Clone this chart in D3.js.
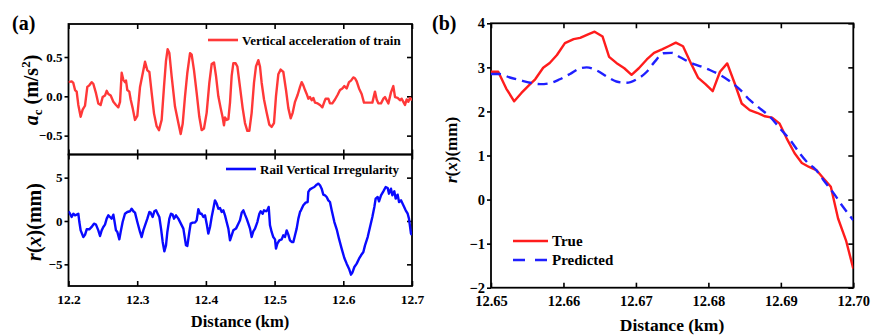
<!DOCTYPE html>
<html><head><meta charset="utf-8">
<script src="https://cdn.jsdelivr.net/npm/d3@7"></script>
<style>
body{margin:0;background:#fff}
svg text{font-family:"Liberation Serif","Times New Roman",serif;font-weight:bold;fill:#000}
</style>
</head><body><svg id="c" width="873" height="335"></svg>
<script>
// ---------- Panel (a) top: vertical acceleration of train (m/s^2) ----------
const accelX = [12.2000,12.2046,12.2070,12.2095,12.2119,12.2143,12.2177,12.2206,12.2240,12.2274,12.2303,12.2337,12.2361,12.2400,12.2434,12.2468,12.2497,12.2531,12.2556,12.2580,12.2614,12.2653,12.2691,12.2725,12.2750,12.2774,12.2798,12.2822,12.2837,12.2856,12.2885,12.2905,12.2934,12.2968,12.3002,12.3041,12.3114,12.3148,12.3177,12.3211,12.3245,12.3283,12.3317,12.3356,12.3390,12.3419,12.3443,12.3468,12.3502,12.3550,12.3599,12.3633,
12.3662,12.3696,12.3730,12.3769,12.3793,12.3827,12.3866,12.3904,12.3938,12.3972,12.4011,12.4050,12.4084,12.4118,12.4147,12.4181,12.4215,12.4244,12.4263,12.4278,12.4302,12.4327,12.4351,12.4375,12.4399,12.4433,12.4458,12.4496,12.4535,12.4569,12.4603,12.4632,12.4666,12.4700,12.4729,12.4763,12.4787,12.4812,12.4846,12.4885,12.4923,12.4957,12.4991,12.5020,12.5054,12.5088,12.5127,12.5166,12.5200,12.5234,12.5263,12.5297,
12.5336,12.5370,12.5394,12.5418,12.5443,12.5467,12.5491,12.5515,12.5540,12.5564,12.5588,12.5627,12.5661,12.5695,12.5724,12.5743,12.5782,12.5806,12.5840,12.5879,12.5918,12.5952,12.5986,12.6015,12.6049,12.6083,12.6112,12.6146,12.6170,12.6195,12.6229,12.6267,12.6301,12.6340,12.6389,12.6423,12.6461,12.6486,12.6510,12.6549,12.6583,12.6607,12.6631,12.6656,12.6694,12.6728,12.6753,12.6791,12.6825,12.6850,12.6874,12.6898,12.6923,12.6947,12.6971,12.7000];
const accelY = [0.18,0.19,0.17,0.08,0.06,-0.11,-0.26,-0.17,-0.12,0.12,0.14,0.18,0.16,0.04,-0.09,-0.11,-0.01,0.01,0.07,0.03,0.01,-0.07,-0.11,-0.14,-0.07,0.30,0.21,0.18,0.20,0.08,0.06,-0.04,-0.15,-0.30,-0.25,0.12,0.44,0.33,0.31,0.04,-0.22,-0.38,-0.43,-0.30,0.12,0.45,0.60,0.55,0.25,-0.13,-0.34,-0.48,
-0.35,0.00,0.30,0.55,0.53,0.33,0.04,-0.26,-0.43,-0.41,-0.21,0.17,0.41,0.43,0.26,0.00,-0.15,-0.27,-0.37,-0.27,-0.30,-0.29,-0.08,0.26,0.42,0.42,0.38,0.12,-0.15,-0.34,-0.44,-0.44,-0.21,0.17,0.38,0.46,0.38,0.17,-0.04,-0.21,-0.36,-0.39,-0.34,0.00,0.28,0.34,0.31,0.08,-0.15,-0.28,-0.21,-0.07,
0.02,0.12,0.18,0.14,0.08,0.03,-0.03,-0.01,-0.05,-0.02,-0.08,-0.09,-0.11,-0.14,-0.07,-0.03,-0.03,-0.09,-0.09,-0.04,0.02,0.08,0.10,0.13,0.10,0.18,0.20,0.24,0.23,0.19,0.10,0.03,-0.08,-0.08,-0.08,-0.08,0.06,-0.04,-0.09,-0.09,-0.03,-0.01,-0.05,-0.09,0.05,0.13,-0.01,-0.02,-0.05,-0.03,-0.07,-0.11,-0.04,-0.07,-0.02,-0.05];

// ---------- Panel (a) bottom: rail vertical irregularity (mm) ----------
const irrX = [12.2000,12.2022,12.2046,12.2070,12.2095,12.2119,12.2143,12.2158,12.2177,12.2216,12.2240,12.2265,12.2303,12.2337,12.2371,12.2400,12.2434,12.2459,12.2483,12.2507,12.2531,12.2556,12.2580,12.2604,12.2628,12.2653,12.2667,12.2691,12.2711,12.2740,12.2759,12.2788,12.2822,12.2856,12.2895,12.2919,12.2944,12.2968,12.3002,12.3041,12.3065,12.3089,12.3114,12.3148,12.3177,12.3196,12.3225,12.3250,12.3274,12.3298,12.3322,12.3347,12.3371,12.3395,12.3419,12.3439,12.3468,12.3492,12.3516,12.3536,12.3565,12.3599,
12.3672,12.3710,12.3730,12.3759,12.3778,12.3807,12.3841,12.3866,12.3890,12.3914,12.3938,12.3963,12.3987,12.4011,12.4035,12.4060,12.4084,12.4108,12.4132,12.4157,12.4181,12.4205,12.4230,12.4254,12.4278,12.4302,12.4327,12.4351,12.4375,12.4399,12.4438,12.4472,12.4496,12.4521,12.4545,12.4569,12.4593,12.4618,12.4642,12.4666,12.4690,12.4715,12.4749,12.4778,12.4797,12.4826,12.4846,12.4875,12.4894,12.4914,12.4933,12.4957,12.4981,12.5006,12.5020,12.5040,12.5069,12.5103,12.5127,12.5151,12.5176,12.5200,12.5224,12.5249,12.5273,12.5297,12.5321,12.5346,12.5370,
12.5384,12.5418,12.5452,12.5481,12.5491,12.5515,12.5549,12.5578,12.5612,12.5637,12.5661,12.5685,12.5709,12.5734,12.5758,12.5782,12.5806,12.5831,12.5870,12.5904,12.5937,12.5976,12.6015,12.6049,12.6083,12.6112,12.6132,12.6161,12.6195,12.6229,12.6258,12.6292,12.6316,12.6355,12.6389,12.6423,12.6452,12.6471,12.6500,12.6520,12.6549,12.6583,12.6617,12.6646,12.6665,12.6694,12.6714,12.6743,12.6762,12.6791,12.6811,12.6840,12.6874,12.6908,12.6937,12.6956,12.6985,12.7000];
const irrY = [1.12,0.84,0.46,0.84,0.65,0.73,0.84,-0.12,-1.08,-1.85,-1.60,-0.96,-0.96,-0.69,-0.31,-0.42,-1.08,-1.73,-1.08,-0.69,-0.42,0.27,0.65,0.46,0.27,0.73,0.08,-1.08,-1.27,-2.12,-1.27,-0.12,0.84,1.04,1.12,1.42,1.12,0.96,-0.12,-1.27,-1.85,-1.08,-0.50,0.27,1.04,0.96,0.46,1.12,1.23,0.84,0.46,-0.88,-2.42,-3.50,-2.81,-1.27,0.27,0.84,0.73,0.27,0.65,0.27,
-0.88,-2.80,-2.88,-1.27,-0.31,-0.19,-0.19,0.08,1.35,0.84,0.84,0.46,0.65,-0.31,-1.46,-0.69,0.46,1.42,2.38,2.00,1.42,1.50,1.04,1.23,0.65,-0.12,-0.88,-2.23,-1.65,-1.08,-0.88,-0.31,0.08,0.96,1.23,0.73,0.27,-0.31,-0.88,-1.85,-1.19,-0.88,-0.12,0.84,1.12,0.84,1.23,1.12,1.23,1.62,-0.50,-1.27,-1.85,-2.12,-3.19,-2.62,-2.23,-2.12,-1.65,-1.85,-1.08,-1.57,-2.23,-2.42,-2.42,-1.65,-0.88,0.27,1.04,
1.23,1.81,2.12,2.19,3.35,3.65,3.81,3.92,4.19,4.31,4.12,3.73,3.04,2.96,2.77,2.38,2.19,1.23,-0.12,-0.96,-2.04,-3.19,-4.27,-4.92,-5.50,-6.19,-5.96,-5.31,-4.92,-4.35,-3.96,-3.58,-2.81,-1.85,-0.69,0.46,1.62,2.58,2.77,2.27,2.96,3.42,3.92,3.81,3.15,3.73,2.96,3.42,2.58,3.04,2.19,2.38,1.81,1.23,0.84,0.27,-1.46,-1.60];

// ---------- Panel (b): true vs predicted r(x) (mm) ----------
const trueX = [12.6500,12.6510,12.6521,12.6532,12.6542,12.6554,12.6561,12.6572,12.6581,12.6591,12.6602,12.6614,12.6623,12.6634,12.6643,12.6654,12.6663,12.6673,12.6684,12.6694,12.6704,12.6715,12.6725,12.6736,12.6745,12.6755,12.6765,12.6776,12.6786,12.6796,12.6806,12.6816,12.6826,12.6836,12.6846,12.6857,12.6867,12.6878,12.6888,12.6898,12.6908,12.6919,12.6929,12.6939,12.6949,12.6959,12.6969,12.6979,12.6990,12.7000];
const trueY = [2.90,2.90,2.52,2.23,2.42,2.62,2.73,2.99,3.10,3.28,3.55,3.64,3.67,3.75,3.81,3.70,3.24,3.10,2.98,2.83,2.98,3.18,3.33,3.41,3.48,3.56,3.48,3.09,2.76,2.62,2.46,2.90,3.09,2.65,2.18,2.03,1.97,1.89,1.86,1.73,1.39,1.05,0.83,0.74,0.67,0.48,0.29,-0.43,-0.93,-1.57];
const predX = [12.6500,12.6512,12.6526,12.6540,12.6554,12.6568,12.6581,12.6595,12.6609,12.6623,12.6632,12.6646,12.6660,12.6673,12.6687,12.6701,12.6715,12.6726,12.6738,12.6749,12.6761,12.6775,12.6788,12.6802,12.6816,12.6830,12.6844,12.6857,12.6871,12.6885,12.6899,12.6913,12.6926,12.6938,12.6947,12.6959,12.6973,12.6986,12.7000];
const predY = [2.85,2.85,2.77,2.71,2.65,2.62,2.64,2.73,2.85,2.98,3.00,2.93,2.79,2.68,2.65,2.73,2.90,3.13,3.32,3.33,3.23,3.11,3.03,2.94,2.83,2.68,2.49,2.26,2.07,1.88,1.61,1.35,1.05,0.82,0.70,0.44,0.14,-0.17,-0.47];

// ---------- ticks & labels ----------
const aXTicks = [12.2,12.3,12.4,12.5,12.6,12.7];
const accelTicks = [-0.5,0,0.5];
const irrTicks = [-5,0,5];
const bXTicks = [12.65,12.66,12.67,12.68,12.69,12.70];
const bYTicks = [-2,-1,0,1,2,3,4];
const legendA1 = "Vertical acceleration of train";
const legendA2 = "Rail Vertical Irregularity";
const legendB = ["True","Predicted"];
const xTitle = "Distance (km)";

const svg = d3.select("#c");
const RED_A = "#ff3838", BLUE_A = "#0a0aff", RED_B = "#ff1c1c", BLUE_B = "#1f1fff";

// scales
const xa = d3.scaleLinear().domain([12.2,12.7]).range([68.5,412]);
const ya1 = d3.scaleLinear().domain([-0.74,0.92]).range([154.5,24]);
const ya2 = d3.scaleLinear().domain([-7.5,7.67]).range([286,154.5]);
const xb = d3.scaleLinear().domain([12.65,12.70]).range([491,853.3]);
const yb = d3.scaleLinear().domain([-2,4]).range([287.7,23.3]);

let clipId = 0;
function panel(x, y, xt, yt, fx, fy, opt){
  const [x0,x1] = x.range(), [y1,y0] = y.range();
  const id = "clip"+(clipId++);
  svg.append("clipPath").attr("id",id).append("rect")
    .attr("x",x0).attr("y",y0).attr("width",x1-x0).attr("height",y1-y0);
  const g = svg.append("g");
  // bottom
  const gb = g.append("g").attr("transform",`translate(0,${y1})`)
    .call(d3.axisBottom(x).tickValues(xt).tickSizeInner(-5).tickSizeOuter(0).tickPadding(opt.xPad||8)
      .tickFormat(opt.xLabels ? fx : ""));
  gb.selectAll("text").attr("font-size",opt.xfs);
  // top
  g.append("g").attr("transform",`translate(0,${y0})`)
    .call(d3.axisTop(x).tickValues(xt).tickSizeInner(-5).tickSizeOuter(0).tickFormat(""));
  // left (outward ticks)
  const gl = g.append("g").attr("transform",`translate(${x0},0)`)
    .call(d3.axisLeft(y).tickValues(yt).tickSizeInner(4).tickSizeOuter(0).tickPadding(opt.yPad).tickFormat(fy));
  gl.selectAll("text").attr("font-size",opt.yfs);
  // right (inward)
  g.append("g").attr("transform",`translate(${x1},0)`)
    .call(d3.axisRight(y).tickValues(yt).tickSizeInner(-5).tickSizeOuter(0).tickFormat(""));
  g.selectAll(".domain").remove();
  g.selectAll(".tick line").attr("stroke","#000").attr("stroke-width",1.6);
  g.append("rect").attr("x",x0).attr("y",y0).attr("width",x1-x0).attr("height",y1-y0)
    .attr("fill","none").attr("stroke","#000").attr("stroke-width",1.8);
  return id;
}

function drawLine(xs, ys, x, y, clip, color, dash, curve){
  const pts = xs.map((d,i)=>[d, ys[i]]);
  const line = d3.line().x(d=>x(d[0])).y(d=>y(d[1])).curve(curve||d3.curveLinear);
  svg.append("path").attr("d",line(pts)).attr("clip-path",`url(#${clip})`)
    .attr("fill","none").attr("stroke",color).attr("stroke-width",2.4)
    .attr("stroke-linejoin","round").attr("stroke-dasharray",dash||null);
}

const f1 = d3.format(".1f"), f2 = d3.format(".2f"), fd = d3.format("d");

// Panel (a) top
const c1 = panel(xa, ya1, aXTicks, accelTicks, f1, f1, {xLabels:false, yfs:13, yPad:2});
drawLine(accelX, accelY, xa, ya1, c1, RED_A);
// Panel (a) bottom
const c2 = panel(xa, ya2, aXTicks, irrTicks, f1, fd, {xLabels:true, xfs:13.5, xPad:8, yfs:13, yPad:2});
drawLine(irrX, irrY, xa, ya2, c2, BLUE_A);
// Panel (b)
const c3 = panel(xb, yb, bXTicks, bYTicks, f2, fd, {xLabels:true, xfs:14.5, xPad:8, yfs:14.5, yPad:2});
drawLine(trueX, trueY, xb, yb, c3, RED_B);
drawLine(predX, predY, xb, yb, c3, BLUE_B, "10,6", d3.curveMonotoneX);

// legends
function legendItem(xl, xr, y, color, dash, label, fs){
  svg.append("line").attr("x1",xl).attr("x2",xr).attr("y1",y).attr("y2",y)
    .attr("stroke",color).attr("stroke-width",2.6).attr("stroke-dasharray",dash||null);
  svg.append("text").attr("x",xr+4).attr("y",y).attr("dy","0.35em").attr("font-size",fs).text(label);
}
legendItem(208,238,40,RED_A,null,legendA1,13);
legendItem(226,256,169,BLUE_A,null,legendA2,13);
legendItem(513,548,241,RED_B,null,legendB[0],15);
legendItem(513,548,260,BLUE_B,"12,10",legendB[1],15);

// panel tags
svg.append("text").attr("x",12).attr("y",30).attr("font-size",20).text("(a)");
svg.append("text").attr("x",432).attr("y",30).attr("font-size",20).text("(b)");

// x titles
svg.append("text").attr("x",240).attr("y",327).attr("text-anchor","middle").attr("font-size",16.5).text(xTitle);
svg.append("text").attr("x",672).attr("y",331).attr("text-anchor","middle").attr("font-size",17.5).text(xTitle);

// y titles
const t1 = svg.append("text").attr("transform","translate(38,90) rotate(-90)").attr("text-anchor","middle").attr("font-size",20);
t1.append("tspan").attr("font-style","italic").text("a");
t1.append("tspan").attr("font-size",13).attr("dy",4).text("c");
t1.append("tspan").attr("dy",-4).text(" (m/s");
t1.append("tspan").attr("font-size",13).attr("dy",-8).text("2");
t1.append("tspan").attr("dy",8).text(")");

function rTitle(tx, ty, fs){
  const t = svg.append("text").attr("transform",`translate(${tx},${ty}) rotate(-90)`).attr("text-anchor","middle").attr("font-size",fs);
  t.append("tspan").attr("font-style","italic").text("r");
  t.append("tspan").text("(");
  t.append("tspan").attr("font-style","italic").text("x");
  t.append("tspan").text(")(mm)");
}
rTitle(41,222,20);
rTitle(457,150,17);
</script>
</body></html>
